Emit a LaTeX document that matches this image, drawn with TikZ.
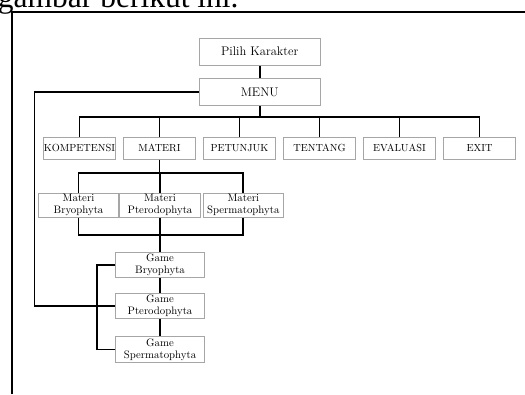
\documentclass[tikz,border=0pt]{standalone}
\usepackage{fontspec}
\newfontfamily\pagefont{Liberation Serif}
\begin{document}
\begin{tikzpicture}[x=1pt, y=-1pt, line width=1.9pt,
		box/.style={draw=black!35, line width=1pt, fill=white, inner sep=0pt, align=center},
		bigbox/.style={box, minimum width=120.7pt, minimum height=27pt, font=\fontsize{12.5}{14}\selectfont},
		menubox/.style={box, minimum width=72.7pt, minimum height=22pt, font=\fontsize{10.3}{12}\selectfont},
		subbox/.style={box, minimum height=24pt, font=\fontsize{10.8}{11.8}\selectfont},
		frame/.style={line width=2.3pt}]
		\useasboundingbox (0,0) rectangle (525,394);
		% ---- page around the chart ----
		\begin{scope}
			\clip (0,0) rectangle (525,394);
			\node[anchor=base west, inner sep=0pt, font=\pagefont\fontsize{31.5}{34}\selectfont] (caption) at (-3,7.3) {gambar berikut ini.};
			\draw[frame] (11.7,394) -- (11.7,11.7) -- (525,11.7);
		\end{scope}
		% ---- start and main menu ----
		\node[bigbox] (pilih) at (259.7,51.7) {Pilih Karakter};
		\node[bigbox] (menu) at (259.7,92) {MENU};
		\draw (pilih.south) -- (menu.north);
		% ---- menu row ----
		\foreach \name/\label [count=\i] in {komp/KOMPETENSI, materi/MATERI, petunjuk/PETUNJUK,
			tentang/TENTANG, evaluasi/EVALUASI, exit/EXIT}
			\node[menubox] (\name) at ({79.5+80*(\i-1)},148.3) {\label};
		\foreach \name in {komp, materi, petunjuk, tentang, evaluasi, exit}
			\draw (menu.south) -- ++(0,10.8) -| (\name.north);
		% ---- materi ----
		\node[subbox, minimum width=80.5pt] (mbryo) at (78.5,205) {Materi\\Bryophyta};
		\node[subbox, minimum width=80.5pt] (mptero) at (160,205) {Materi\\Pterodophyta};
		\node[subbox, minimum width=80.5pt] (msperma) at (243.3,205) {Materi\\Spermatophyta};
		\foreach \name in {mbryo, mptero, msperma}
			\draw (materi.south) -- ++(0,13) -| (\name.north);
		% ---- games ----
		\node[subbox, minimum width=88.3pt, minimum height=25pt] (gbryo) at (160,264.8) {Game\\Bryophyta};
		\node[subbox, minimum width=88.3pt, minimum height=25pt] (gptero) at (160,305.8) {Game\\Pterodophyta};
		\node[subbox, minimum width=88.3pt, minimum height=25.6pt] (gsperma) at (160,349.5) {Game\\Spermatophyta};
		\foreach \name in {mbryo, msperma}
			\draw (\name.south) -- ++(0,17.6) -| (gbryo.north);
		\draw (mptero.south) -- (gbryo.north);
		\draw (gbryo.south) -- (gptero.north);
		\draw (gptero.south) -- (gsperma.north);
		\draw (gbryo.west) -- ++(-18,0) |- (gsperma.west);
		% ---- back to menu ----
		\coordinate (back) at (34.5,92);
		\draw (menu.west) -- (back) |- (gptero.west);
	\end{tikzpicture}
\end{document}
